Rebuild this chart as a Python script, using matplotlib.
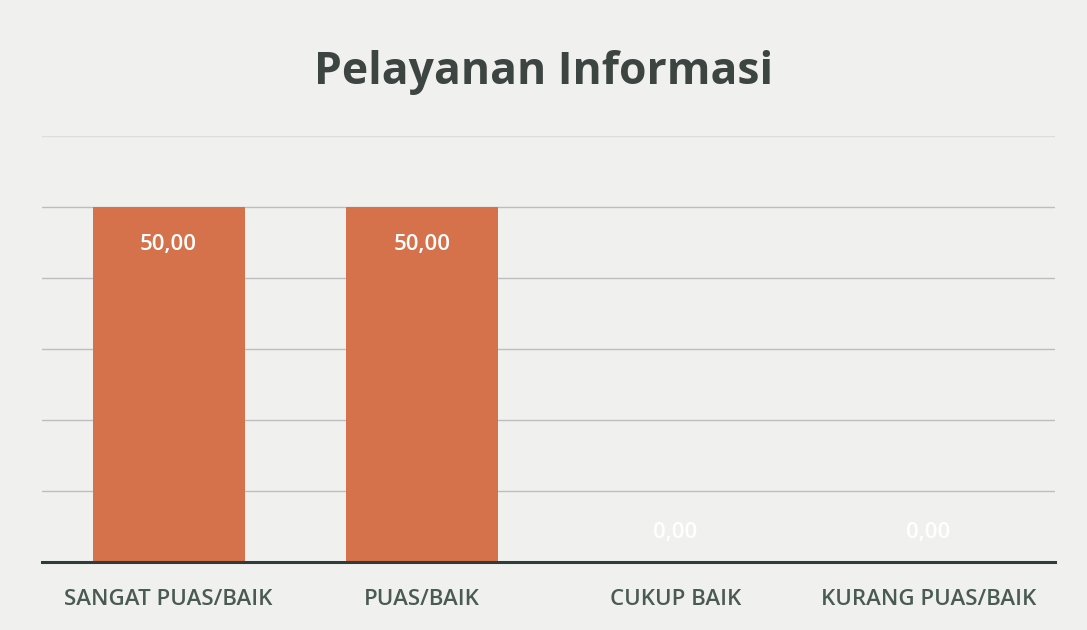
import matplotlib.pyplot as plt

categories = ["SANGAT PUAS/BAIK", "PUAS/BAIK", "CUKUP BAIK", "KURANG PUAS/BAIK"]
values = [50.0, 50.0, 0.0, 0.0]
y_ticks = [10, 20, 30, 40, 50, 60]

plt.rcParams['font.family'] = ['Open Sans', 'DejaVu Sans']

fig = plt.figure(figsize=(10.87, 6.30), dpi=100)
fig.patch.set_facecolor('#f0f0ef')
ax = fig.add_axes([0.0386, 0.108, 0.932, 0.676])
ax.set_facecolor('#f0f0ef')

x = range(len(categories))
ax.bar(x, values, width=0.6, color='#d5714b', zorder=2)

# data labels, Excel style: inside end for bars, just above base for zeros
for xi, v in zip(x, values):
    label = f"{v:.2f}".replace('.', ',')
    dy = -27 if v > 0 else 21
    ax.annotate(label, (xi, v), xytext=(0, dy), textcoords='offset points',
                ha='center', va='center', color='white', fontsize=16,
                fontweight='semibold', zorder=3)

ax.set_xlim(-0.5, len(categories) - 0.5)
ax.set_ylim(0, 60)
ax.set_yticks(y_ticks)
ax.yaxis.grid(True, color='#bdbdbd', linewidth=1.0, zorder=0)
ax.get_ygridlines()[-1].set_color('#dcdcdc')  # top line is much fainter
ax.tick_params(axis='y', left=False, labelleft=False)
ax.tick_params(axis='x', bottom=False, pad=16)
ax.set_xticks(list(x))
ax.set_xticklabels(categories, fontsize=16, color='#4a5a55', fontweight='semibold')

for side in ['top', 'right', 'left']:
    ax.spines[side].set_visible(False)
ax.spines['bottom'].set_color('#2e3d39')
ax.spines['bottom'].set_linewidth(2.2)
ax.spines['bottom'].set_zorder(4)

fig.text(0.5, 0.885, "Pelayanan Informasi", ha='center', va='center',
         fontsize=32, fontweight='bold', color='#3d4543')

fig.savefig("out.png", dpi=100, facecolor=fig.get_facecolor())
